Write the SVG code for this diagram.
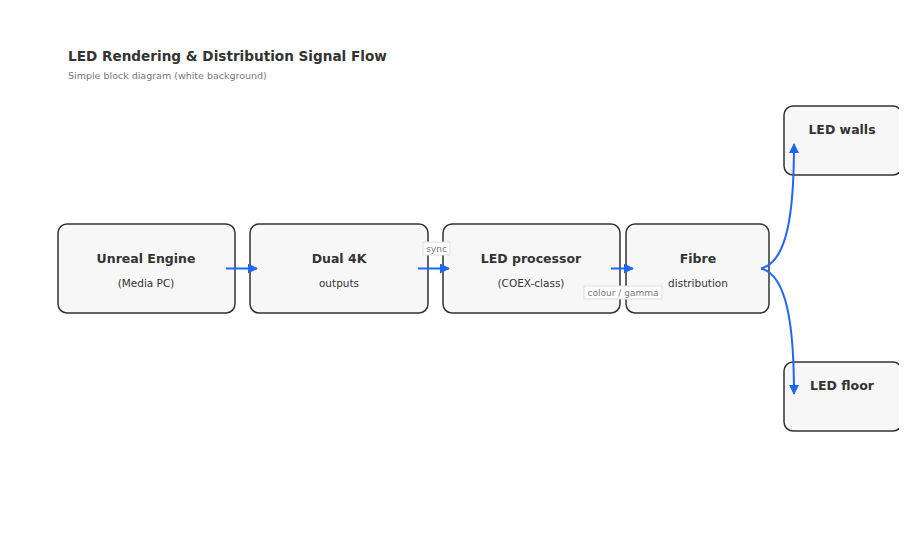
<svg xmlns="http://www.w3.org/2000/svg" width="922" height="539" viewBox="0 0 922 539">
<style>
.box{fill:#f7f7f7;stroke:#333;stroke-width:1.5}
.t{font-family:"DejaVu Sans",Verdana,sans-serif;fill:#333;text-anchor:middle}
.b{font-weight:bold;font-size:12.5px}
.s{font-size:10.5px}
.e{fill:none;stroke:#1f66f5;stroke-width:2}
.lb{fill:#fff;stroke:#ddd;stroke-width:1}
.lt{font-family:"DejaVu Sans",Verdana,sans-serif;font-size:9px;fill:#777;text-anchor:middle}
</style>
<defs>
<marker id="ar" viewBox="0 0 10 10" refX="9" refY="5" markerWidth="5" markerHeight="5" orient="auto-start-reverse" markerUnits="strokeWidth">
<path d="M0,0 L10,5 L0,10 z" fill="#1f66f5"/>
</marker>
<clipPath id="cl"><rect x="0" y="0" width="899" height="539"/></clipPath>
</defs>
<rect width="922" height="539" fill="#fff"/>
<text x="68" y="61" font-family="DejaVu Sans,Verdana,sans-serif" font-weight="bold" font-size="13.6" fill="#333">LED Rendering &amp; Distribution Signal Flow</text>
<text x="68" y="79" font-family="DejaVu Sans,Verdana,sans-serif" font-size="9.5" fill="#777">Simple block diagram (white background)</text>
<g id="n1"><rect class="box" x="58" y="224" width="177" height="89" rx="9"/><text class="t b" x="146" y="263">Unreal Engine</text><text class="t s" x="146" y="287">(Media PC)</text></g>
<g id="n2"><rect class="box" x="250" y="224" width="178" height="89" rx="9"/><text class="t b" x="339" y="263">Dual 4K</text><text class="t s" x="339" y="287">outputs</text></g>
<g id="n3"><rect class="box" x="443" y="224" width="177" height="89" rx="9"/><text class="t b" x="531" y="263">LED processor</text><text class="t s" x="531" y="287">(COEX-class)</text></g>
<g id="n4"><rect class="box" x="626" y="224" width="143" height="89" rx="9"/><text class="t b" x="698" y="263">Fibre</text><text class="t s" x="698" y="287">distribution</text></g>
<g id="n5" clip-path="url(#cl)"><rect class="box" x="784" y="106" width="118" height="69" rx="9"/><text class="t b" x="842" y="134">LED walls</text></g>
<g id="n6" clip-path="url(#cl)"><rect class="box" x="784" y="362" width="118" height="69" rx="9"/><text class="t b" x="842" y="390">LED floor</text></g>
<g id="edges">
<path class="e" d="M226,268.5 H257" marker-end="url(#ar)"/>
<path class="e" d="M418,268.5 H449" marker-end="url(#ar)"/>
<path class="e" d="M611,268.5 H633" marker-end="url(#ar)"/>
<path class="e" d="M761,268.5 C788,262 794,210 794,144" marker-end="url(#ar)"/>
<path class="e" d="M761,268.5 C788,275 794,330 794,394" marker-end="url(#ar)"/>
<rect class="lb" x="423" y="242" width="27" height="13"/><text class="lt" x="436.5" y="252">sync</text>
<rect class="lb" x="584" y="286" width="78" height="13"/><text class="lt" x="623" y="296">colour / gamma</text>
</g>
</svg>
